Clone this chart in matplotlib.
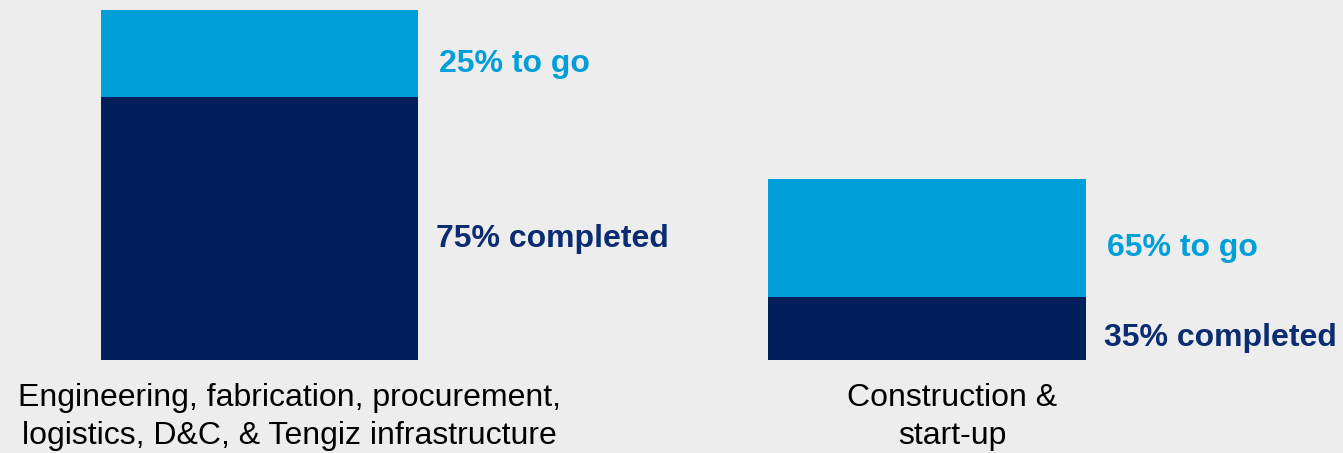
import matplotlib
matplotlib.use("Agg")
import matplotlib.pyplot as plt

# Progress split per work package
categories = ["Engineering, fabrication, procurement,\nlogistics, D&C, & Tengiz infrastructure",
              "Construction &\nstart-up"]
scope = [1.0, 0.517]          # relative size of each package
completed_pct = [75, 35]
to_go_pct = [25, 65]

NAVY = "#001F5B"
NAVY_TEXT = "#0B2C70"
BLUE = "#009FD9"
BG = "#EDEDED"

plt.rcParams["font.family"] = ["Liberation Sans", "DejaVu Sans"]

fig = plt.figure(figsize=(13.43, 4.53), dpi=100, facecolor=BG)
ax = fig.add_axes([0, 93 / 453, 1, 360 / 453])
ax.set_facecolor(BG)

x = list(range(len(categories)))
done = [s * p / 100 for s, p in zip(scope, completed_pct)]
left = [s * p / 100 for s, p in zip(scope, to_go_pct)]

width = 0.475
ax.bar(x, done, width=width, color=NAVY, linewidth=0)
ax.bar(x, left, width=width, bottom=done, color=BLUE, linewidth=0)

ax.set_xlim(-0.3888, 1.6232)
ax.set_ylim(0, 360 / 350)
ax.axis("off")

label_shift = [30, 25]  # category captions sit a bit right of the bar centre

for i in x:
    right = i + width / 2
    ax.annotate(f"{to_go_pct[i]}% to go", xy=(right, done[i] + left[i] / 2),
                xytext=(21, -18), textcoords="offset pixels",
                ha="left", va="baseline", fontsize=23, fontweight="bold",
                color=BLUE)
    ax.annotate(f"{completed_pct[i]}% completed", xy=(right, done[i] / 2),
                xytext=(18, -18), textcoords="offset pixels",
                ha="left", va="baseline", fontsize=23, fontweight="bold",
                color=NAVY_TEXT)
    ax.annotate(categories[i], xy=(i, 0), xytext=(label_shift[i], -23),
                textcoords="offset pixels", ha="center", va="top",
                fontsize=23, color="black", linespacing=1.33,
                annotation_clip=False)

fig.savefig("out.png", dpi=100, facecolor=BG)
